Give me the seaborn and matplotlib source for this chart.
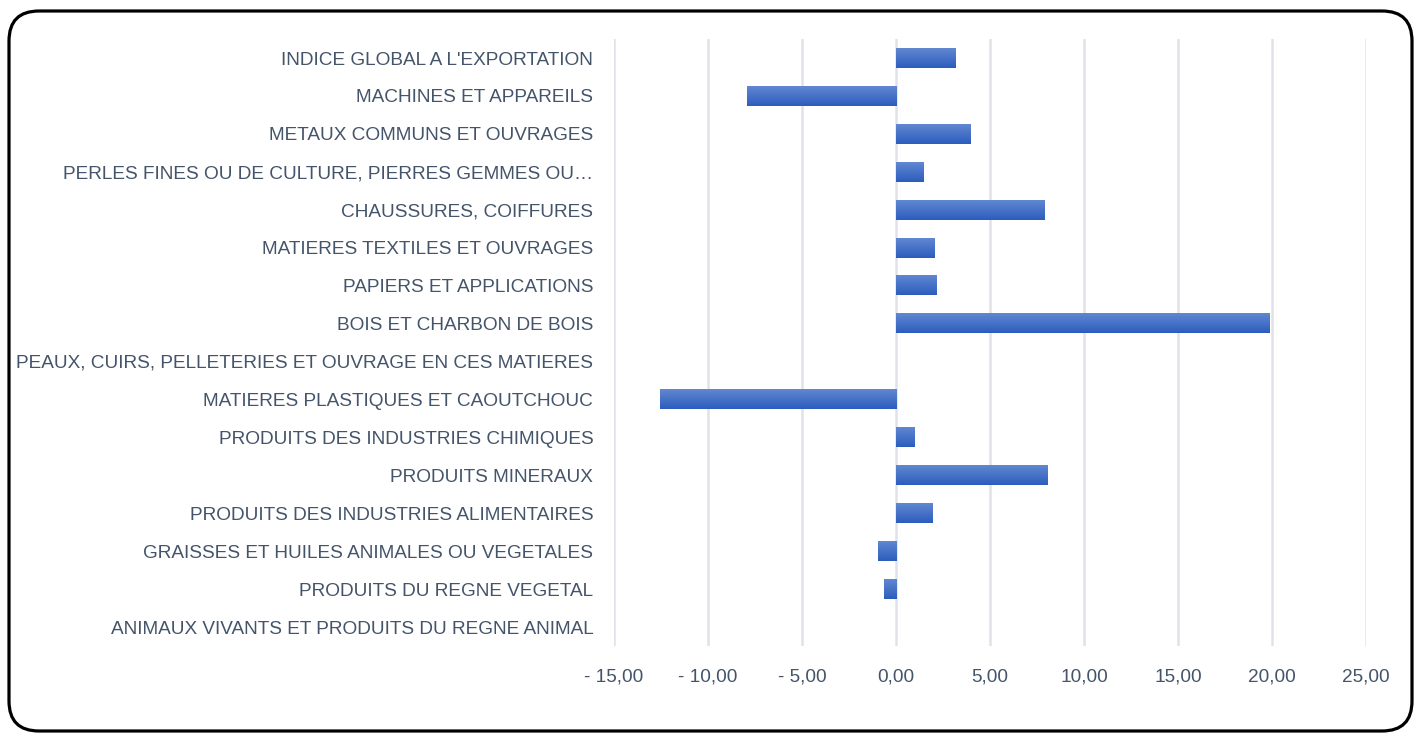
import numpy as np
import pandas as pd
import matplotlib.pyplot as plt
import seaborn as sns
from matplotlib.patches import FancyBboxPatch
from matplotlib.colors import LinearSegmentedColormap
from matplotlib.ticker import FuncFormatter, MultipleLocator

# --- data ---
categories = [
    "INDICE GLOBAL A L'EXPORTATION",
    "MACHINES ET APPAREILS",
    "METAUX COMMUNS ET OUVRAGES",
    "PERLES FINES OU DE CULTURE, PIERRES GEMMES OU…",
    "CHAUSSURES, COIFFURES",
    "MATIERES TEXTILES ET OUVRAGES",
    "PAPIERS ET APPLICATIONS",
    "BOIS ET CHARBON DE BOIS",
    "PEAUX, CUIRS, PELLETERIES ET OUVRAGE EN CES MATIERES",
    "MATIERES PLASTIQUES ET CAOUTCHOUC",
    "PRODUITS DES INDUSTRIES CHIMIQUES",
    "PRODUITS MINERAUX",
    "PRODUITS DES INDUSTRIES ALIMENTAIRES",
    "GRAISSES ET HUILES ANIMALES OU VEGETALES",
    "PRODUITS DU REGNE VEGETAL",
    "ANIMAUX VIVANTS ET PRODUITS DU REGNE ANIMAL",
]
values = [3.18, -7.95, 3.98, 1.44, 7.90, 2.07, 2.13, 19.86, 0.0,
          -12.57, 1.00, 8.08, 1.96, -0.96, -0.64, 0.0]

df = pd.DataFrame({"categorie": categories, "variation": values})

TEXT = "#44546A"

sns.set_theme(style="white")
plt.rcParams["font.family"] = ["Liberation Sans", "DejaVu Sans"]

fig = plt.figure(figsize=(14.15, 7.33), dpi=100)
ax = fig.add_axes([0.434, 0.1187, 0.5314, 0.828])

sns.barplot(data=df, x="variation", y="categorie", orient="h",
            color="#4472C4", saturation=1, width=0.52, ax=ax)

# vertical gradient fill on each bar (light top -> darker bottom)
cmap = LinearSegmentedColormap.from_list("bar", ["#6187d1", "#2c5dbd"])
grad = np.linspace(0, 1, 64).reshape(-1, 1)
for p in list(ax.patches):
    p.set_facecolor("none")
    p.set_edgecolor("none")
    p.set_linewidth(0)
    w = p.get_width()
    if w == 0:
        continue
    x0, y0 = p.get_xy()
    h = p.get_height()
    ax.imshow(grad, cmap=cmap, aspect="auto", origin="lower",
              extent=(x0, x0 + w, y0, y0 + h), zorder=2)

ax.set_xlim(-15, 25)
ax.set_ylim(len(categories) - 0.5, -0.5)
ax.xaxis.set_major_locator(MultipleLocator(5))
ax.xaxis.set_major_formatter(FuncFormatter(
    lambda v, _: ("- " if v < 0 else "") + f"{abs(v):.2f}".replace(".", ",")))

ax.xaxis.grid(True, color="#dfe2e8", linewidth=1.8)
ax.yaxis.grid(False)
ax.set_axisbelow(True)
sns.despine(ax=ax, left=True, bottom=True)

ax.set_xlabel("")
ax.set_ylabel("")
ax.tick_params(axis="y", length=0, pad=15, labelsize=13.7, labelcolor=TEXT)
ax.tick_params(axis="x", length=0, pad=16, labelsize=13.7, labelcolor=TEXT)

# rounded frame around the whole chart
frame = FancyBboxPatch((0.09, 0.02), 14.03, 7.2,
                       boxstyle="round,pad=0,rounding_size=0.3",
                       transform=fig.dpi_scale_trans,
                       facecolor="none", edgecolor="black", linewidth=2.3)
fig.patches.append(frame)

fig.savefig("out.png", dpi=100)
